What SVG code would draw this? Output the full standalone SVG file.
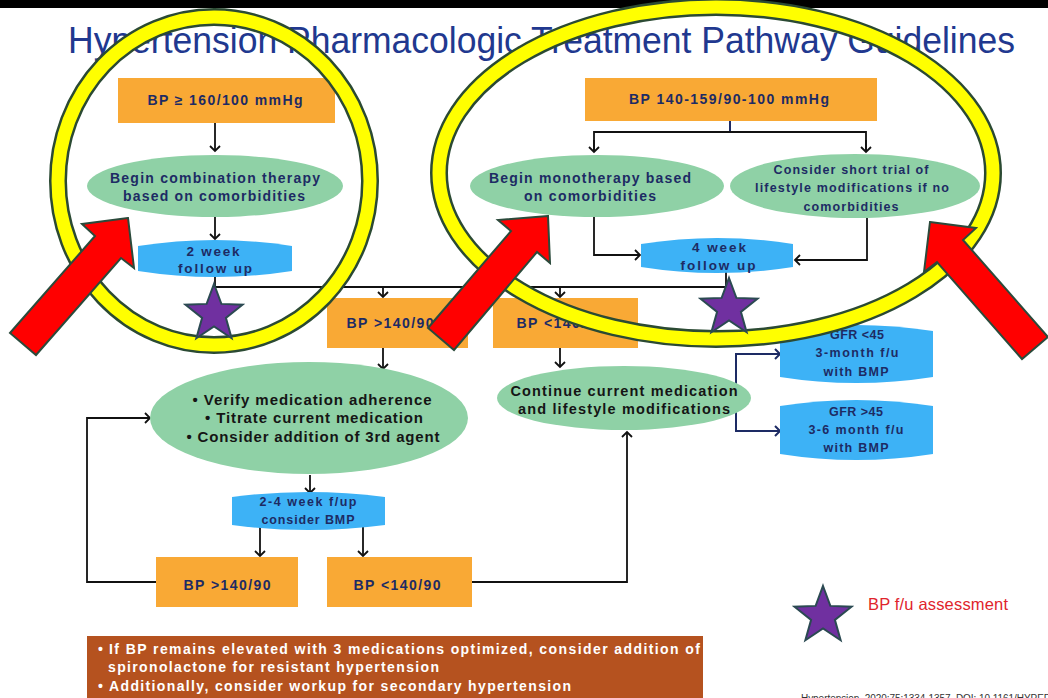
<svg xmlns="http://www.w3.org/2000/svg" width="1048" height="698" viewBox="0 0 1048 698">
  <defs>
    <marker id="arr" markerWidth="12" markerHeight="12" refX="9" refY="6" orient="auto" markerUnits="userSpaceOnUse">
      <path d="M4,1 L9,6 L4,11" fill="none" stroke="#111" stroke-width="1.8"/>
    </marker>
    <marker id="arrN" markerWidth="12" markerHeight="12" refX="9" refY="6" orient="auto" markerUnits="userSpaceOnUse">
      <path d="M4,1 L9,6 L4,11" fill="none" stroke="#1d2b64" stroke-width="2"/>
    </marker>
    <polygon id="star" points="0,-30 7.35,-10.11 28.53,-9.27 11.89,3.86 17.63,24.27 0,12.5 -17.63,24.27 -11.89,3.86 -28.53,-9.27 -7.35,-10.11"/>
  </defs>
  <style>
    .t{font-family:"Liberation Sans",Arial,sans-serif;font-weight:bold;text-anchor:middle}
    .nv{fill:#1d2b64}
    .bk{fill:#151515}
    .org{fill:#f9a935}
    .grn{fill:#8fd1a6}
    .blu{fill:#3db2f6}
    .ln{fill:none;stroke:#111;stroke-width:1.8}
    .nl{fill:none;stroke:#1d2b64;stroke-width:2}
    .ring{fill:none;stroke:#2b4a33;stroke-width:18}
    .ringy{fill:none;stroke:#ffff00;stroke-width:13}
    .red{fill:#ff0000;stroke:#2b4a3b;stroke-width:2;stroke-linejoin:miter}
    .star{fill:#7030a0;stroke:#2b4a52;stroke-width:2}
  </style>

  <rect width="1048" height="698" fill="#ffffff"/>
  <rect width="1048" height="8" fill="#000000"/>

  <!-- Title -->
  <text x="68" y="53" font-family="Liberation Sans, Arial, sans-serif" font-size="36" fill="#21388f" textLength="947" lengthAdjust="spacingAndGlyphs">Hypertension Pharmacologic Treatment Pathway Guidelines</text>

  <!-- Connectors -->
  <g id="connectors">
    <line class="ln" x1="215" y1="123" x2="215" y2="151" marker-end="url(#arr)"/>
    <line class="ln" x1="215" y1="217" x2="215" y2="239" marker-end="url(#arr)"/>
    <polyline class="ln" points="215,276 215,287 726,287 726,272"/>
    <line class="ln" x1="383" y1="287" x2="383" y2="297" marker-end="url(#arr)"/>
    <line class="ln" x1="560" y1="287" x2="560" y2="297" marker-end="url(#arr)"/>
    <line class="nl" x1="730" y1="120" x2="730" y2="132"/>
    <polyline class="ln" points="594,152 594,132 866,132 866,152"/>
    <line class="ln" x1="594" y1="140" x2="594" y2="152" marker-end="url(#arr)"/>
    <line class="ln" x1="866" y1="140" x2="866" y2="152" marker-end="url(#arr)"/>
    <polyline class="ln" points="594,217 594,255 640,255" marker-end="url(#arr)"/>
    <polyline class="ln" points="867,217 867,260 795,260" marker-end="url(#arr)"/>
    <line class="ln" x1="383" y1="348" x2="383" y2="369" marker-end="url(#arr)"/>
    <line class="ln" x1="560" y1="348" x2="560" y2="367" marker-end="url(#arr)"/>
    <polyline class="nl" points="780,354 736,354 736,431 780,431"/>
    <line class="nl" x1="760" y1="354" x2="780" y2="354" marker-end="url(#arrN)"/>
    <line class="nl" x1="760" y1="431" x2="780" y2="431" marker-end="url(#arrN)"/>
    <line class="ln" x1="310" y1="475" x2="310" y2="493" marker-end="url(#arr)"/>
    <line class="ln" x1="260" y1="527" x2="260" y2="556" marker-end="url(#arr)"/>
    <line class="ln" x1="363" y1="527" x2="363" y2="556" marker-end="url(#arr)"/>
    <polyline class="ln" points="156,582 87,582 87,418 150,418" marker-end="url(#arr)"/>
    <polyline class="ln" points="472,582 627,582 627,432" marker-end="url(#arr)"/>
  </g>

  <!-- Severe branch -->
  <g id="bp-severe">
    <rect class="org" x="118" y="78" width="217" height="45"/>
    <text class="t nv" x="225" y="105" font-size="14" textLength="155">BP ≥ 160/100 mmHg</text>
  </g>
  <g id="combination-therapy">
    <ellipse class="grn" cx="215" cy="186" rx="128" ry="31"/>
    <text class="t nv" x="215" y="183" font-size="14" textLength="210">Begin combination therapy</text>
    <text class="t nv" x="214" y="201" font-size="14" textLength="182">based on comorbidities</text>
  </g>
  <g id="fu-2week">
    <path class="blu" d="M138,246 Q215,234 292,246 L292,271 Q215,283 138,271 Z"/>
    <text class="t nv" x="213" y="256" font-size="13.5" textLength="53">2 week</text>
    <text class="t nv" x="215" y="273" font-size="13.5" textLength="74">follow up</text>
  </g>

  <!-- Stage 1 branch -->
  <g id="bp-stage1">
    <rect class="org" x="585" y="78" width="292" height="43"/>
    <text class="t nv" x="729" y="104" font-size="14" textLength="200">BP 140-159/90-100 mmHg</text>
  </g>
  <g id="monotherapy">
    <ellipse class="grn" cx="597" cy="186" rx="127" ry="31"/>
    <text class="t nv" x="590" y="183" font-size="14" textLength="202">Begin monotherapy based</text>
    <text class="t nv" x="590" y="201" font-size="14" textLength="132">on comorbidities</text>
  </g>
  <g id="lifestyle-trial">
    <ellipse class="grn" cx="855" cy="186" rx="125" ry="32"/>
    <text class="t nv" x="851" y="174" font-size="12.5" textLength="155">Consider short trial of</text>
    <text class="t nv" x="852" y="192" font-size="12.5" textLength="194">lifestyle modifications if no</text>
    <text class="t nv" x="851" y="211" font-size="12.5" textLength="95">comorbidities</text>
  </g>
  <g id="fu-4week">
    <path class="blu" d="M641,244 Q717,232 793,244 L793,267 Q717,279 641,267 Z"/>
    <text class="t nv" x="719" y="252" font-size="13.5" textLength="54">4 week</text>
    <text class="t nv" x="718" y="270" font-size="13.5" textLength="75">follow up</text>
  </g>

  <!-- Follow-up results -->
  <g id="bp-above">
    <rect class="org" x="327" y="298" width="141" height="50"/>
    <text class="t nv" x="390" y="328" font-size="14" textLength="87">BP &gt;140/90</text>
  </g>
  <g id="bp-below">
    <rect class="org" x="493" y="298" width="145" height="50"/>
    <text class="t nv" x="560" y="328" font-size="14" textLength="87">BP &lt;140/90</text>
  </g>
  <g id="titrate">
    <ellipse class="grn" cx="309" cy="418" rx="159" ry="56"/>
    <text class="t bk" x="312" y="405" font-size="15" textLength="239">• Verify medication adherence</text>
    <text class="t bk" x="314" y="423" font-size="15" textLength="218">• Titrate current medication</text>
    <text class="t bk" x="313" y="442" font-size="15" textLength="253">• Consider addition of 3rd agent</text>
  </g>
  <g id="continue">
    <ellipse class="grn" cx="624" cy="398" rx="127" ry="32"/>
    <text class="t bk" x="624" y="396" font-size="14.5" textLength="227">Continue current medication</text>
    <text class="t bk" x="624" y="414" font-size="14.5" textLength="212">and lifestyle modifications</text>
  </g>
  <g id="gfr-low">
    <path class="blu" d="M780,331 Q856,319 933,331 L933,377 Q856,389 780,377 Z"/>
    <text class="t nv" x="857" y="339" font-size="12.5" textLength="54">GFR &lt;45</text>
    <text class="t nv" x="857" y="357" font-size="12.5" textLength="83">3-month f/u</text>
    <text class="t nv" x="856" y="376" font-size="12.5" textLength="65">with BMP</text>
  </g>
  <g id="gfr-high">
    <path class="blu" d="M780,406 Q856,394 933,406 L933,454 Q856,466 780,454 Z"/>
    <text class="t nv" x="856" y="416" font-size="12.5" textLength="54">GFR &gt;45</text>
    <text class="t nv" x="856" y="434" font-size="12.5" textLength="95">3-6 month f/u</text>
    <text class="t nv" x="856" y="452" font-size="12.5" textLength="65">with BMP</text>
  </g>
  <g id="fu-2-4week">
    <path class="blu" d="M232,497 Q308,487 385,497 L385,525 Q308,535 232,525 Z"/>
    <text class="t nv" x="308" y="506" font-size="12.5" textLength="97">2-4 week f/up</text>
    <text class="t nv" x="308" y="524" font-size="12.5" textLength="93">consider BMP</text>
  </g>
  <g id="recheck-above">
    <rect class="org" x="156" y="557" width="142" height="50"/>
    <text class="t nv" x="227" y="590" font-size="14" textLength="87">BP &gt;140/90</text>
  </g>
  <g id="recheck-below">
    <rect class="org" x="327" y="557" width="145" height="50"/>
    <text class="t nv" x="397" y="590" font-size="14" textLength="87">BP &lt;140/90</text>
  </g>

  <!-- Note box -->
  <g id="note">
    <rect x="87" y="636" width="616" height="70" fill="#b5521f"/>
    <g font-family="Liberation Sans, Arial, sans-serif" font-weight="bold" font-size="14" fill="#ffffff">
      <text x="98" y="654">•</text>
      <text x="109" y="654" textLength="591">If BP remains elevated with 3 medications optimized, consider addition of</text>
      <text x="108" y="672" textLength="331">spironolactone for resistant hypertension</text>
      <text x="98" y="691">•</text>
      <text x="109" y="691" textLength="462">Additionally, consider workup for secondary hypertension</text>
    </g>
  </g>

  <!-- Highlight rings -->
  <g id="rings">
    <ellipse class="ring" cx="214" cy="181" rx="156" ry="164"/>
    <ellipse class="ringy" cx="214" cy="181" rx="156" ry="164"/>
    <ellipse class="ring" cx="716" cy="173" rx="277" ry="166"/>
    <ellipse class="ringy" cx="716" cy="173" rx="277" ry="166"/>
  </g>

  <!-- Follow-up assessment stars -->
  <g id="stars" class="star">
    <use href="#star" x="214" y="314"/>
    <use href="#star" x="729" y="308"/>
  </g>

  <!-- Pointer arrows -->
  <g id="pointers">
    <polygon class="red" points="128,218 82,224 95,236 10,333 36,355 121,258 134,268"/>
    <polygon class="red" points="548,216 498,220 511,231 428,328 454,350 537,252 550,263"/>
    <polygon class="red" points="930,222 976,228 963,240 1048,337 1022,359 937,262 924,272"/>
  </g>

  <!-- Legend -->
  <g id="legend">
    <use href="#star" class="star" x="823" y="616"/>
    <text x="868" y="610" font-family="Liberation Sans, Arial, sans-serif" font-size="16.5" fill="#e0242c" textLength="140">BP f/u assessment</text>
  </g>

  <!-- Reference -->
  <text x="801" y="702" font-family="Liberation Sans, Arial, sans-serif" font-size="10" fill="#333333" textLength="250">Hypertension. 2020;75:1334-1357. DOI: 10.1161/HYPER</text>
</svg>
